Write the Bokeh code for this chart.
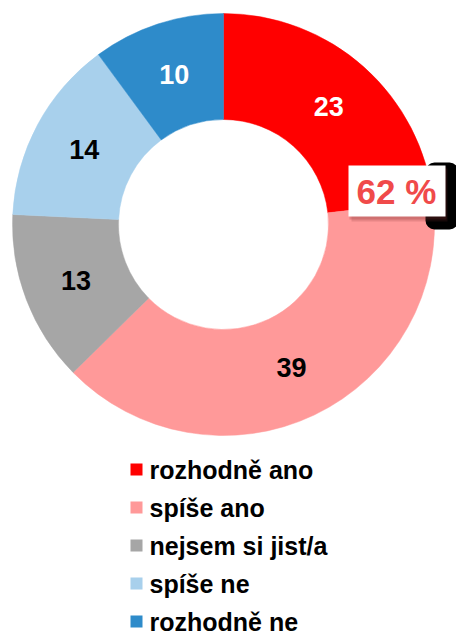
import math
from bokeh.plotting import figure
from bokeh.models import Range1d, ColumnDataSource
from bokeh.core.properties import value
from bokeh.embed import file_html
from bokeh.resources import INLINE

# ---- data ----
categories = ["rozhodně ano", "spíše ano", "nejsem si jist/a", "spíše ne", "rozhodně ne"]
values = [23, 39, 13, 14, 10]
colors = ["#FF0000", "#FF9999", "#A6A6A6", "#A8D0EC", "#2E8BCA"]
label_colors = ["white", "black", "black", "black", "white"]
summary_value = values[0] + values[1]

# ---- layout helpers (picture pixel -> data coords, y up) ----
W, H = 456, 637
def fx(px):
    return px
def fy(py):
    return H - py

FONT = value("Liberation Sans")

p = figure(width=W, height=H, output_backend="svg", toolbar_location=None,
           x_range=Range1d(0, W), y_range=Range1d(0, H),
           x_axis_location=None, y_axis_location=None, min_border=0)
p.grid.visible = False
p.outline_line_color = None
p.background_fill_color = "white"
p.border_fill_color = "white"

cx, cy = fx(223), fy(224)
r_in, r_out = 105, 211
r_lab = 158

total = sum(values)
cum = 0
starts, ends, lx, ly = [], [], [], []
for v in values:
    a0 = math.pi / 2 - 2 * math.pi * cum / total
    cum += v
    a1 = math.pi / 2 - 2 * math.pi * cum / total
    starts.append(a0)
    ends.append(a1)
    m = (a0 + a1) / 2
    lx.append(cx + r_lab * math.cos(m))
    ly.append(cy + r_lab * math.sin(m))

src = ColumnDataSource(dict(start=starts, end=ends, color=colors,
                            lx=lx, ly=ly, txt=[str(v) for v in values],
                            tcol=label_colors))

p.annular_wedge(x=cx, y=cy, inner_radius=r_in, outer_radius=r_out,
                start_angle="start", end_angle="end", direction="clock",
                fill_color="color", line_color="color", line_width=0.5, source=src)

p.text(x="lx", y="ly", text="txt", text_color="tcol", source=src,
       text_font=FONT, text_font_style="bold", text_font_size="27px",
       text_align="center", text_baseline="middle")

# ---- summary callout "62 %" ----
p.quad(left=fx(425), right=fx(458), top=fy(162), bottom=fy(229),
       fill_color="black", line_color=None, border_radius=9)
p.quad(left=fx(351), right=fx(447), top=fy(168), bottom=fy(221),
       fill_color="#7a2a2a", fill_alpha=0.18, line_color=None)
p.quad(left=fx(349), right=fx(446), top=fy(166), bottom=fy(219),
       fill_color="#7a2a2a", fill_alpha=0.22, line_color=None)
p.quad(left=fx(348), right=fx(445), top=fy(165), bottom=fy(216),
       fill_color="white", line_color=None)
p.text(x=[fx(396)], y=[fy(191)], text=[f"{summary_value} %"],
       text_color="#F04A4A", text_font=FONT, text_font_style="bold",
       text_font_size="35px", text_align="center", text_baseline="middle")

# ---- legend ----
row_y = [fy(469 + i * 38) for i in range(len(categories))]
leg = ColumnDataSource(dict(x=[fx(136)] * len(categories), tx=[fx(149)] * len(categories),
                            y=row_y, color=colors, txt=categories))
p.scatter(x="x", y="y", marker="square", size=12, fill_color="color",
          line_color=None, source=leg)
p.text(x="tx", y="y", text="txt", source=leg, text_color="black",
       text_font=FONT, text_font_style="bold", text_font_size="25px",
       text_align="left", text_baseline="middle")

open("out.html", "w").write(file_html(p, INLINE))
